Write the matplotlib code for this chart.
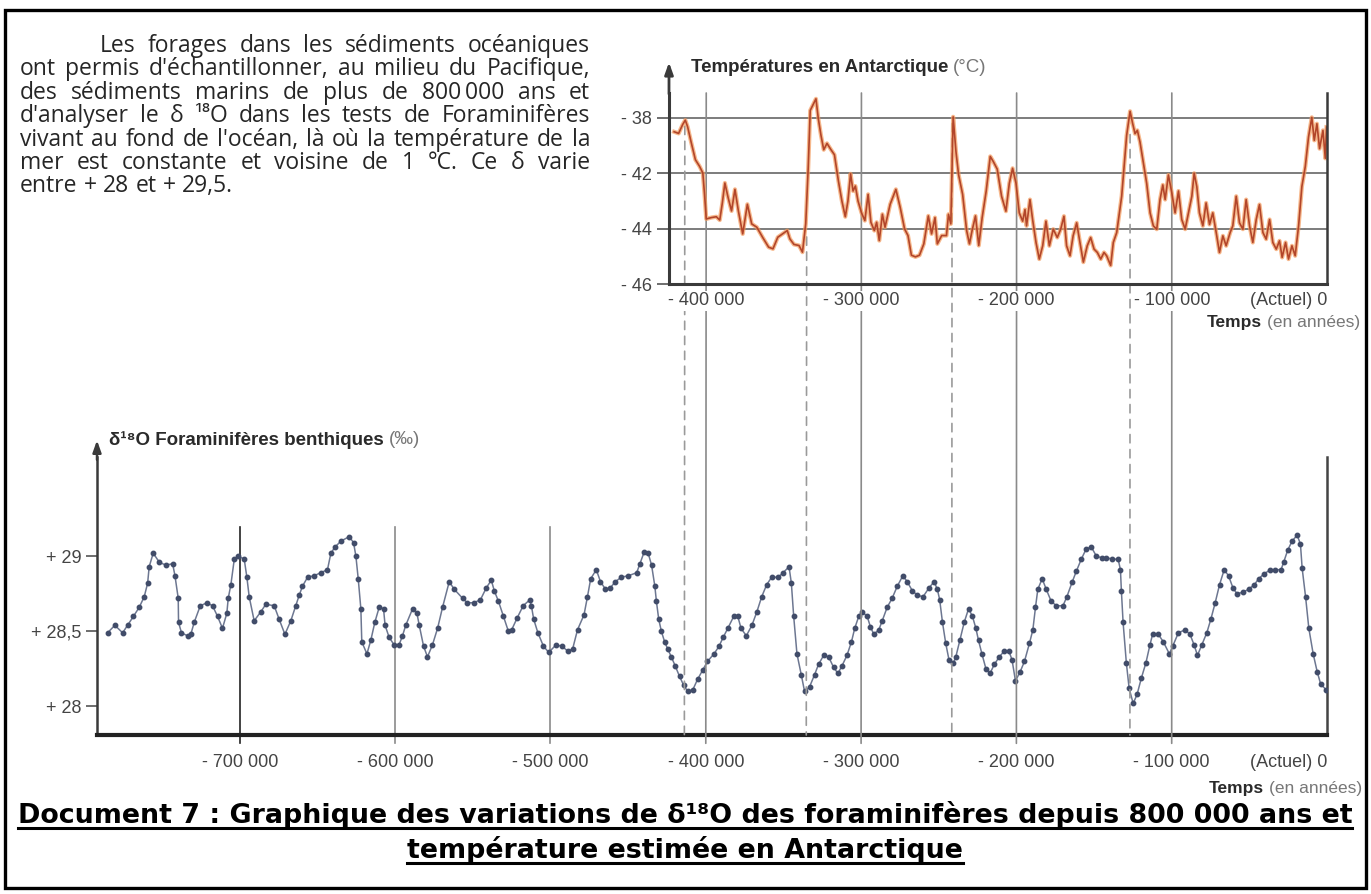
import matplotlib
matplotlib.use("Agg")
import matplotlib.pyplot as plt
from matplotlib.lines import Line2D
from matplotlib.patches import ConnectionPatch, Rectangle

W, H = 1371, 894

# Antarctic temperature (top chart), plotted on the evenly spaced grid
temp_years = [
    -420700, -417800, -415200, -413500, -412000, -409800, -407000, -404300,
    -402200, -401100, -400000, -396700, -393500, -391300, -389600, -388000,
    -385900, -383700, -381500, -379300, -376500, -373500, -370700, -367400,
    -363500, -359800, -357000, -353900, -350400, -347800, -346100, -343500,
    -340200, -338000, -335900, -334300, -333000, -330900, -329300, -327800,
    -326100, -324300, -322200, -319600, -317400, -314800, -312600, -310400,
    -308700, -307000, -305400, -303900, -302200, -300000, -297800, -295700,
    -293900, -291700, -290200, -288500, -286500, -284800, -281500, -277800,
    -275000, -272200, -270000, -267800, -265200, -262600, -259800, -256900,
    -254800, -252600, -251100, -248300, -245200, -243900, -242400, -240900,
    -239100, -237400, -234800, -232200, -230400, -228700, -226500, -224400,
    -222200, -219600, -217000, -215000, -212500, -209700, -206900, -204700,
    -202600, -200400, -198300, -196100, -194600, -193600, -191400, -189700,
    -187500, -185400, -183200, -181100, -178900, -176400, -173800, -171600,
    -169500, -167800, -165600, -163600, -161300, -159200, -157000, -154500,
    -152300, -150100, -148000, -145800, -143700, -142000, -139400, -137700,
    -135500, -132300, -129100, -126900, -125200, -123700, -122200, -120500,
    -118300, -116200, -114000, -111900, -109700, -107600, -105800, -104300,
    -102200, -100000, -97900, -95700, -93600, -91400, -89300, -87100,
    -85600, -83900, -82200, -80000, -77900, -75700, -73600, -71400,
    -69300, -67100, -65000, -62400, -60700, -58500, -56400, -54200,
    -52100, -49900, -47800, -45600, -43500, -41300, -39200, -37000,
    -34900, -32700, -30600, -28900, -26700, -24800, -22600, -20500,
    -18300, -16200, -14000, -11900, -9800, -8200, -6500, -4800,
    -2600, -1100, -300,
]
temp_values = [
    -40.50, -40.56, -40.24, -40.08, -40.32, -40.86, -41.51, -41.75,
    -41.99, -42.76, -43.65, -43.60, -43.57, -43.69, -43.06, -42.35,
    -42.88, -43.36, -42.58, -43.36, -44.19, -43.12, -43.83, -43.95,
    -44.33, -44.67, -44.73, -44.31, -44.17, -44.07, -44.37, -44.57,
    -44.61, -44.85, -43.83, -41.81, -39.73, -39.49, -39.31, -40.02,
    -40.62, -41.15, -40.92, -41.15, -41.33, -42.29, -43.00, -43.57,
    -43.00, -42.02, -42.64, -42.46, -43.00, -43.42, -43.71, -42.76,
    -43.77, -44.07, -43.77, -44.43, -43.48, -43.95, -43.12, -42.58,
    -43.24, -44.01, -44.25, -44.96, -45.02, -44.96, -44.55, -43.54,
    -44.19, -43.60, -44.55, -44.25, -44.25, -43.48, -43.83, -39.96,
    -41.21, -42.05, -42.76, -44.07, -44.55, -44.07, -43.54, -44.61,
    -43.60, -42.64, -41.39, -41.58, -41.85, -42.83, -43.37, -42.36,
    -41.82, -42.36, -43.43, -43.73, -43.31, -43.90, -42.95, -43.67,
    -44.50, -45.10, -44.62, -43.73, -44.62, -44.02, -44.32, -44.02,
    -43.55, -44.62, -44.98, -44.26, -43.79, -44.50, -45.21, -44.62,
    -44.32, -44.74, -44.86, -45.10, -44.86, -44.98, -45.33, -44.50,
    -44.14, -42.83, -40.63, -39.76, -40.21, -40.57, -40.45, -40.87,
    -41.64, -42.36, -43.43, -43.90, -44.02, -42.95, -42.42, -42.95,
    -42.06, -42.71, -43.43, -42.64, -43.67, -44.02, -43.43, -42.83,
    -42.00, -42.48, -43.43, -43.90, -43.07, -43.85, -43.43, -44.14,
    -44.86, -44.26, -44.62, -44.14, -43.90, -42.83, -43.79, -44.02,
    -42.95, -43.90, -44.50, -43.67, -43.13, -44.14, -44.38, -43.67,
    -44.50, -44.74, -44.44, -45.04, -44.50, -45.10, -44.62, -44.98,
    -43.90, -42.48, -41.76, -40.69, -39.98, -40.81, -40.21, -41.11,
    -40.45, -41.46, -40.33,
]

# benthic foraminifera d18O (bottom chart)
d18o_years = [
    -785200, -780500, -775500, -772300, -768500, -764800, -761600, -759400,
    -758400, -755800, -751900, -747600, -743300, -741800, -739700, -739500,
    -737600, -733700, -731600, -729400, -725500, -721200, -717600, -714400,
    -711200, -708400, -707500, -705800, -703600, -701100, -697200, -695500,
    -694000, -690800, -686500, -683300, -677900, -674700, -671000, -667200,
    -664000, -661800, -659700, -656400, -652200, -647900, -643600, -641400,
    -638800, -635000, -629600, -626800, -625300, -623800, -622100, -621500,
    -618200, -615700, -613100, -610300, -607500, -606500, -603900, -600700,
    -597500, -595300, -593200, -588800, -586000, -584500, -581700, -579200,
    -576000, -572700, -569500, -565200, -562000, -556600, -553600, -549400,
    -545100, -541300, -538100, -536200, -533500, -530300, -527100, -525000,
    -521400, -517600, -513300, -512300, -510800, -508100, -504500, -501100,
    -496400, -492600, -489000, -485800, -482600, -478400, -476200, -474100,
    -470500, -467800, -464600, -461400, -458300, -454400, -449800, -444500,
    -442400, -439600, -437100, -434900, -432800, -431800, -430300, -428600,
    -426500, -424400, -422200, -419700, -416900, -414200, -411600, -408400,
    -405300, -402100, -398900, -394700, -391500, -388800, -385800, -382000,
    -379400, -377300, -373900, -370300, -367100, -364000, -360800, -357600,
    -353400, -350200, -346400, -344900, -343400, -341300, -338500, -336400,
    -333200, -330000, -327400, -324100, -320900, -317700, -314900, -312300,
    -309100, -306200, -304100, -301500, -299400, -296100, -294000, -291800,
    -288600, -286400, -283200, -280000, -276700, -273100, -270300, -267000,
    -263800, -260100, -256200, -253000, -250900, -249400, -247600, -245500,
    -243400, -240500, -239000, -236400, -233600, -230800, -228300, -226100,
    -224400, -222200, -219600, -217000, -214200, -211000, -207700, -204900,
    -202800, -200600, -197600, -194800, -191600, -189400, -187700, -186200,
    -183400, -180800, -177600, -174300, -170000, -167500, -164000, -161400,
    -158200, -155000, -151700, -148500, -145200, -142000, -138200, -134500,
    -133000, -132400, -131300, -129200, -127400, -124800, -122300, -119500,
    -116600, -114000, -112300, -108600, -105400, -101500, -99400, -95700,
    -91400, -88200, -85600, -83400, -80600, -77400, -74800, -72000,
    -69200, -66200, -63400, -60600, -58000, -54100, -50500, -46800,
    -44000, -40800, -36500, -33200, -29600, -27900, -25300, -22500,
    -19200, -17100, -16000, -13800, -11700, -8900, -6300, -4100,
    -500,
]
d18o_values = [
    28.49, 28.54, 28.49, 28.54, 28.60, 28.66, 28.73, 28.82,
    28.93, 29.02, 28.96, 28.94, 28.95, 28.87, 28.72, 28.56,
    28.49, 28.47, 28.48, 28.56, 28.67, 28.69, 28.67, 28.60,
    28.52, 28.62, 28.72, 28.81, 28.98, 29.00, 28.98, 28.86,
    28.73, 28.57, 28.63, 28.68, 28.67, 28.58, 28.48, 28.57,
    28.67, 28.74, 28.80, 28.86, 28.87, 28.89, 28.91, 29.02,
    29.06, 29.10, 29.13, 29.09, 29.00, 28.85, 28.65, 28.43,
    28.35, 28.44, 28.56, 28.66, 28.65, 28.54, 28.46, 28.41,
    28.41, 28.47, 28.54, 28.65, 28.62, 28.54, 28.40, 28.33,
    28.41, 28.52, 28.66, 28.83, 28.78, 28.72, 28.69, 28.69,
    28.71, 28.79, 28.84, 28.77, 28.70, 28.60, 28.50, 28.51,
    28.59, 28.67, 28.71, 28.67, 28.58, 28.49, 28.40, 28.36,
    28.41, 28.40, 28.37, 28.38, 28.51, 28.61, 28.73, 28.85,
    28.91, 28.83, 28.78, 28.79, 28.83, 28.86, 28.87, 28.89,
    28.95, 29.03, 29.02, 28.94, 28.80, 28.70, 28.58, 28.50,
    28.43, 28.38, 28.33, 28.27, 28.20, 28.14, 28.10, 28.11,
    28.18, 28.24, 28.30, 28.35, 28.40, 28.46, 28.52, 28.60,
    28.60, 28.52, 28.47, 28.54, 28.63, 28.73, 28.81, 28.86,
    28.86, 28.89, 28.93, 28.82, 28.60, 28.35, 28.21, 28.10,
    28.13, 28.21, 28.28, 28.34, 28.33, 28.26, 28.22, 28.27,
    28.34, 28.43, 28.52, 28.60, 28.63, 28.60, 28.53, 28.48,
    28.51, 28.57, 28.66, 28.72, 28.80, 28.87, 28.83, 28.77,
    28.74, 28.73, 28.79, 28.83, 28.78, 28.71, 28.56, 28.42,
    28.31, 28.29, 28.33, 28.44, 28.56, 28.65, 28.60, 28.52,
    28.44, 28.35, 28.25, 28.22, 28.28, 28.33, 28.37, 28.37,
    28.31, 28.17, 28.23, 28.30, 28.42, 28.51, 28.66, 28.78,
    28.85, 28.78, 28.70, 28.67, 28.67, 28.73, 28.83, 28.90,
    28.98, 29.05, 29.06, 29.00, 28.99, 28.99, 28.98, 28.98,
    28.91, 28.77, 28.56, 28.29, 28.12, 28.02, 28.08, 28.19,
    28.29, 28.41, 28.48, 28.48, 28.43, 28.35, 28.40, 28.49,
    28.51, 28.48, 28.41, 28.34, 28.41, 28.49, 28.58, 28.69,
    28.81, 28.91, 28.87, 28.79, 28.75, 28.76, 28.78, 28.81,
    28.85, 28.88, 28.91, 28.91, 28.91, 28.96, 29.04, 29.10,
    29.14, 29.08, 28.92, 28.73, 28.52, 28.35, 28.23, 28.15,
    28.11,
]

temp_yticks = [-40, -42, -44, -46]
temp_yticklabels = ["- 38", "- 42", "- 44", "- 46"]
temp_xticks = [-400000, -300000, -200000, -100000, 0]
temp_xticklabels = ["- 400 000", "- 300 000", "- 200 000", "- 100 000", "(Actuel) 0"]

d18o_yticks = [28, 28.5, 29]
d18o_yticklabels = ["+ 28", "+ 28,5", "+ 29"]
d18o_xticks = [-700000, -600000, -500000, -400000, -300000, -200000, -100000, 0]
d18o_xticklabels = ["- 700 000", "- 600 000", "- 500 000", "- 400 000",
                    "- 300 000", "- 200 000", "- 100 000", "(Actuel) 0"]

# vertical lines running through both charts
shared_years = [-400000, -300000, -200000, -100000]
# dashed lines dropped from the temperature peaks
peak_years = [-413800, -335300, -241600, -126900]
peak_temps = [-40.3, -44.3, -40.2, -40.6]

# "\u2009" keeps 800 000 as one word when the lines are justified
intro_lines = [
    "Les forages dans les sédiments océaniques",
    "ont permis d'échantillonner, au milieu du Pacifique,",
    "des sédiments marins de plus de 800\u2009000 ans et",
    "d'analyser le δ ¹⁸O dans les tests de Foraminifères",
    "vivant au fond de l'océan, là où la température de la",
    "mer est constante et voisine de 1 °C. Ce δ varie",
    "entre + 28 et + 29,5.",
]
caption_lines = [
    "Document 7 : Graphique des variations de δ¹⁸O des foraminifères depuis 800 000 ans et",
    "température estimée en Antarctique",
]

SANS = ["Liberation Sans", "DejaVu Sans"]
BODY = ["Open Sans", "DejaVu Sans"]
GRID = "#8a8a8a"
INK = "#2a2a2a"


def fx(x):
    return x / W


def fy(y):
    return 1 - y / H


def box(left, top, right, bottom):
    return [fx(left), fy(bottom), (right - left) / W, (bottom - top) / H]


fig = plt.figure(figsize=(W / 100, H / 100), dpi=100)
renderer = fig.canvas.get_renderer()


def width_of(artist):
    return artist.get_window_extent(renderer).width


def write_line(words, x0, x1, base, justify, size):
    arts = [fig.text(0, fy(base), w, ha="left", va="baseline", fontsize=size,
                     family=BODY, color="#262626") for w in words]
    widths = [width_of(a) for a in arts]
    gap = size * 100 / 72 * 0.27
    if justify and len(words) > 1:
        gap = (x1 - x0 - sum(widths)) / (len(words) - 1)
    x = x0
    for a, w in zip(arts, widths):
        a.set_x(fx(x))
        x += w + gap


def two_part(x, y, bold, normal, size, anchor="left"):
    if anchor == "left":
        b = fig.text(fx(x), fy(y), bold, ha="left", va="center", fontsize=size,
                     weight="bold", family=SANS, color=INK)
        fig.text(fx(x + width_of(b) + 5), fy(y), normal, ha="left", va="center",
                 fontsize=size, family=SANS, color="#777777")
    else:
        n = fig.text(fx(x), fy(y), normal, ha="right", va="center", fontsize=size,
                     family=SANS, color="#777777")
        fig.text(fx(x - width_of(n) - 5), fy(y), bold, ha="right", va="center",
                 fontsize=size, weight="bold", family=SANS, color=INK)


# ---- top chart: Antarctic temperatures ----
ax_t = fig.add_axes(box(669, 93, 1327, 284))
ax_t.set_facecolor("none")
ax_t.set_zorder(2)
ax_t.plot(temp_years, temp_values, color="#f39a5c", lw=3.0, alpha=0.7,
          solid_joinstyle="round")
ax_t.plot(temp_years, temp_values, color="#b2452a", lw=1.2,
          solid_joinstyle="round")
ax_t.set_xlim(-424000, 0)
ax_t.set_ylim(-46, -39.1)
for t in temp_yticks[:-1]:
    ax_t.axhline(t, color="#7c7c7c", lw=1.4, zorder=0)
ax_t.set_yticks(temp_yticks)
ax_t.set_yticklabels(temp_yticklabels, fontsize=13, family=SANS, color="#444444")
ax_t.set_xticks(temp_xticks)
ax_t.set_xticklabels(temp_xticklabels, fontsize=13, family=SANS, color="#444444")
ax_t.get_xticklabels()[-1].set_ha("right")
ax_t.tick_params(axis="y", length=9, width=1.2, color="#555555", pad=3)
ax_t.tick_params(axis="x", length=0, pad=6)
for lab in ax_t.get_xticklabels():
    lab.set_bbox(dict(facecolor="white", edgecolor="none", pad=1))
ax_t.spines["top"].set_visible(False)
ax_t.spines["left"].set_linewidth(2.2)
ax_t.spines["bottom"].set_linewidth(2.2)
ax_t.spines["right"].set_linewidth(1.8)
for s in ("left", "bottom", "right"):
    ax_t.spines[s].set_color("#3a3a3a")
ax_t.annotate("", xy=(0, 1.175), xytext=(0, 0.98), xycoords="axes fraction",
              arrowprops=dict(arrowstyle="-|>,head_length=0.7,head_width=0.25",
                              color="#3a3a3a", lw=2.0), annotation_clip=False)

# ---- bottom chart: benthic d18O ----
ax_b = fig.add_axes(box(97, 457, 1327, 735))
ax_b.set_facecolor("none")
ax_b.plot(d18o_years, d18o_values, color="#6d7791", lw=1.1, marker="o",
          markersize=3.2, markerfacecolor="#414c69", markeredgecolor="#414c69",
          zorder=3)
ax_b.set_xlim(-792000, 0)
ax_b.set_ylim(27.81, 29.66)
ax_b.set_yticks(d18o_yticks)
ax_b.set_yticklabels(d18o_yticklabels, fontsize=13, family=SANS, color="#444444")
ax_b.set_xticks(d18o_xticks)
ax_b.set_xticklabels(d18o_xticklabels, fontsize=13, family=SANS, color="#444444")
ax_b.get_xticklabels()[-1].set_ha("right")
ax_b.tick_params(axis="y", length=8, width=1.2, color="#555555", pad=3)
ax_b.tick_params(axis="x", length=0, pad=14)
ax_b.spines["top"].set_visible(False)
ax_b.spines["left"].set_linewidth(1.8)
ax_b.spines["left"].set_color("#3a3a3a")
ax_b.spines["bottom"].set_linewidth(3.0)
ax_b.spines["bottom"].set_color("#222222")
ax_b.spines["right"].set_linewidth(1.8)
ax_b.spines["right"].set_color("#444444")
for yr in d18o_xticks[:3]:
    ax_b.axvline(yr, ymin=-0.03, ymax=0.75, clip_on=False, lw=1.2,
                 color="#222222" if yr == -700000 else GRID, zorder=1)
ax_b.annotate("", xy=(0, 1.07), xytext=(0, 0.98), xycoords="axes fraction",
              arrowprops=dict(arrowstyle="-|>,head_length=0.7,head_width=0.25",
                              color="#3a3a3a", lw=1.8), annotation_clip=False)

# lines shared by both charts
for yr in shared_years:
    ax_t.add_artist(ConnectionPatch(
        xyA=(yr, 1.0), coordsA=ax_t.get_xaxis_transform(),
        xyB=(yr, -0.03), coordsB=ax_b.get_xaxis_transform(),
        color=GRID, lw=1.2, zorder=0.5))
for yr, tv in zip(peak_years, peak_temps):
    ax_t.add_artist(ConnectionPatch(
        xyA=(yr, tv), coordsA=ax_t.transData,
        xyB=(yr, 0.0), coordsB=ax_b.get_xaxis_transform(),
        color="#9a9a9a", lw=1.2, linestyle=(0, (5, 4)), zorder=0.5))

# axis titles
two_part(691, 68, "Températures en Antarctique", "(°C)", 13.5)
two_part(109, 440, "δ¹⁸O Foraminifères benthiques", "(‰)", 13.5)
two_part(1360, 322, "Temps", "(en années)", 12.5, anchor="right")
two_part(1362, 788, "Temps", "(en années)", 12.5, anchor="right")

# introductory paragraph, justified like the printed page
for i, line in enumerate(intro_lines):
    x0 = 100 if i == 0 else 20
    write_line(line.split(" "), x0, 590, 52 + 23.4 * i,
               i < len(intro_lines) - 1, 16.5)

# caption, bold and underlined
for i, line in enumerate(caption_lines):
    base = 823 + 35 * i
    t = fig.text(fx(685), fy(base), line, ha="center", va="baseline",
                 fontsize=19.4, weight="bold", family=["DejaVu Sans"],
                 color="black")
    bb = t.get_window_extent(renderer)
    fig.add_artist(Line2D([fx(bb.x0), fx(bb.x1)], [fy(base + 5), fy(base + 5)],
                          transform=fig.transFigure, color="black", lw=2.2))

fig.add_artist(Rectangle((fx(5), fy(888)), 1361 / W, 878 / H,
                         transform=fig.transFigure, fill=False,
                         edgecolor="black", lw=2.4))

fig.savefig("out.png", dpi=100)
